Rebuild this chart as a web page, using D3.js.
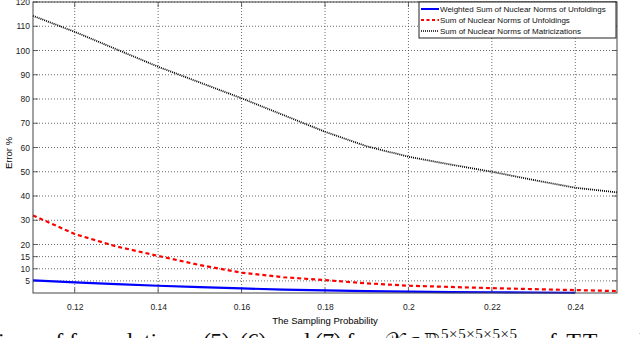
<!DOCTYPE html>
<html>
<head>
<meta charset="utf-8">
<script src="https://cdn.jsdelivr.net/npm/d3@7"></script>
<style>
body { margin: 0; background: #fff; }
svg { display: block; font-family: 'Liberation Sans', Arial, sans-serif; }
.grid line { stroke: #444; stroke-width: 0.8; stroke-dasharray: 1,2; }
.frame { fill: none; stroke: #444; stroke-width: 1; }
.tick-label { font-size: 8.5px; fill: #222; }
.legend-text { font-size: 8px; fill: #111; }
.caption { font-family: 'Liberation Serif', 'Times New Roman', serif; font-size: 24px; fill: #111; }
</style>
</head>
<body>
<div id="chart"></div>
<script>
// sampling probability
let probs = [0.11, 0.12, 0.13, 0.14, 0.15, 0.16, 0.17, 0.18, 0.19, 0.20, 0.21, 0.22, 0.23, 0.24, 0.25]

let weighted = [5.2, 4.4, 3.7, 3.0, 2.4, 1.9, 1.4, 1.1, 0.8, 0.6, 0.4, 0.3, 0.2, 0.1]
let unfoldings = [32, 24.3, 19.2, 15.3, 11.5, 8.4, 6.5, 5.3, 4.0, 3.0, 2.5, 2.0, 1.6, 1.2, 0.8]
let matricizations = [114.3, 107.7, 100.5, 93.3, 86.8, 80.3, 73.4, 66.5, 60.5, 56.2, 53.0, 50.0, 46.6, 43.4, 41.5]

let seriesNames = ['Weighted Sum of Nuclear Norms of Unfoldings', 'Sum of Nuclear Norms of Unfoldings', 'Sum of Nuclear Norms of Matricizations']

let xTicks = [0.12, 0.14, 0.16, 0.18, 0.2, 0.22, 0.24]
let yTicks = [5, 10, 15, 20, 30, 40, 50, 60, 70, 80, 90, 100, 110, 120]

let margin = { left: 33, right: 23, top: 2, bottom: 45 }
let W = 640, H = 338
let width = W - margin.left - margin.right
let height = H - margin.top - margin.bottom

let svg = d3.select('#chart')
.append('svg')
.attr('width', W)
.attr('height', H)

let g = svg.append('g')
.attr('transform', `translate(${margin.left}, ${margin.top})`)

let x = d3.scaleLinear().domain([0.11, 0.25]).range([0, width])
let y = d3.scaleLinear().domain([0, 120]).range([height, 0])

// grid
let grid = g.append('g').attr('class', 'grid')
grid.selectAll('.gx')
.data(xTicks)
.join('line')
.attr('x1', d => x(d)).attr('x2', d => x(d))
.attr('y1', 0).attr('y2', height)
grid.selectAll('.gy')
.data(yTicks)
.join('line')
.attr('x1', 0).attr('x2', width)
.attr('y1', d => y(d)).attr('y2', d => y(d))

// axes (matlab style, ticks inward on all sides)
let tick = 5
g.append('g')
.call(d3.axisBottom(x).tickValues(xTicks).tickSize(0).tickPadding(11).tickFormat(d3.format('~g')))
.attr('transform', `translate(0, ${height})`)
.call(a => a.select('.domain').remove())
.selectAll('text').attr('class', 'tick-label')

g.append('g')
.call(d3.axisLeft(y).tickValues(yTicks).tickSize(0).tickPadding(3))
.call(a => a.select('.domain').remove())
.selectAll('text').attr('class', 'tick-label')

let tickMarks = g.append('g').attr('stroke', '#444').attr('stroke-width', 0.8)
tickMarks.selectAll('.tb')
.data(xTicks)
.join('line')
.attr('x1', d => x(d)).attr('x2', d => x(d))
.attr('y1', height).attr('y2', height - tick)
tickMarks.selectAll('.tt')
.data(xTicks)
.join('line')
.attr('x1', d => x(d)).attr('x2', d => x(d))
.attr('y1', 0).attr('y2', tick)
tickMarks.selectAll('.tl')
.data(yTicks)
.join('line')
.attr('x1', 0).attr('x2', tick)
.attr('y1', d => y(d)).attr('y2', d => y(d))
tickMarks.selectAll('.tr')
.data(yTicks)
.join('line')
.attr('x1', width).attr('x2', width - tick)
.attr('y1', d => y(d)).attr('y2', d => y(d))

// lines
let styles = [
	{ color: '#0000ff', dash: null, w: 2.2 },
	{ color: '#ff0000', dash: '4,3', w: 2.2 },
	{ color: '#000000', dash: '1,1', w: 1.8 }
]
let series = [weighted, unfoldings, matricizations]

let line = d3.line()
.x(d => x(d[0]))
.y(d => y(d[1]))

g.selectAll('.series')
.data(series)
.join('path')
.attr('class', 'series')
.attr('d', vals => line(vals.map((v, i) => [probs[i], v])))
.attr('fill', 'none')
.attr('stroke', (d, i) => styles[i].color)
.attr('stroke-width', (d, i) => styles[i].w)
.attr('stroke-dasharray', (d, i) => styles[i].dash)

g.append('rect')
.attr('class', 'frame')
.attr('width', width)
.attr('height', height)

// legend
let legend = svg.append('g').attr('transform', 'translate(419, 2)')
legend.append('rect')
.attr('width', 197).attr('height', 36)
.attr('fill', '#fff').attr('stroke', '#222').attr('stroke-width', 1)

let items = legend.selectAll('.item')
.data(seriesNames)
.join('g')
.attr('class', 'item')
.attr('transform', (d, i) => `translate(0, ${7 + i * 11})`)

items.append('line')
.attr('x1', 2).attr('x2', 20)
.attr('stroke', (d, i) => styles[i].color)
.attr('stroke-width', (d, i) => i == 2 ? 1.3 : 2)
.attr('stroke-dasharray', (d, i) => i == 0 ? null : (i == 1 ? '3,2.5' : '1,1'))

items.append('text')
.attr('class', 'legend-text')
.attr('x', 21)
.attr('y', 3)
.text(d => d)

// axis titles
svg.append('text')
.attr('x', margin.left + width / 2)
.attr('y', 324)
.attr('text-anchor', 'middle')
.style('font-size', '9.5px')
.text('The Sampling Probability')

svg.append('text')
.attr('transform', `translate(12, ${margin.top + 151}) rotate(-90)`)
.attr('text-anchor', 'middle')
.style('font-size', '9.5px')
.text('Error %')

// caption of the page, cut by the bottom edge
let caption = svg.append('g').attr('class', 'caption')
caption.append('text').attr('x', -2).attr('y', 349).attr('textLength', 192).text('ions of formulations')
caption.append('text').attr('x', 203).attr('y', 349).attr('textLength', 170).text('(5), (6), and (7) for')
caption.append('text').attr('x', 383).attr('y', 349).attr('textLength', 58).text('𝒳 ∈ ℝ')
caption.append('text').attr('x', 441).attr('y', 339).style('font-size', '15px').attr('textLength', 76).text('5×5×5×5×5')
caption.append('text').attr('x', 535).attr('y', 349).attr('textLength', 110).text('of TT and')
</script>
</body>
</html>
